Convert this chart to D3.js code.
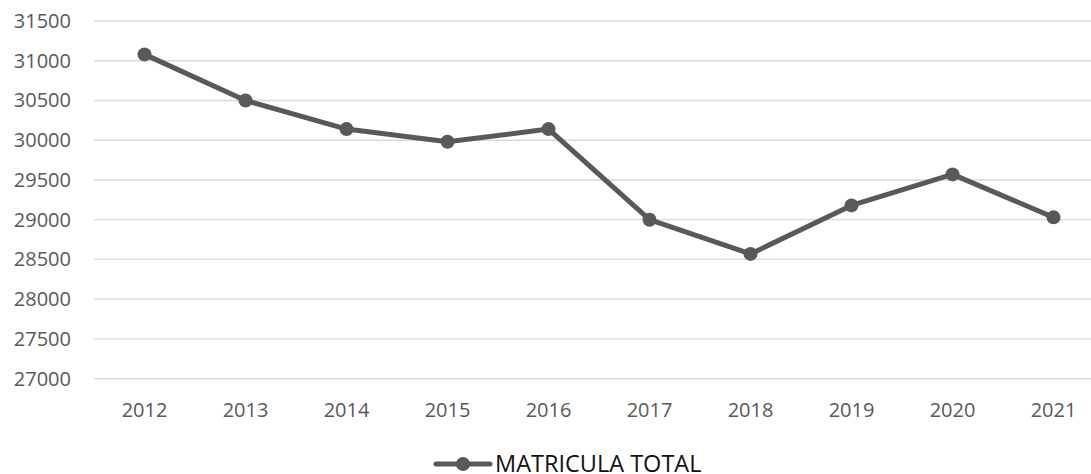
<!DOCTYPE html>
<html>
<head>
<meta charset="utf-8">
<script src="https://cdn.jsdelivr.net/npm/d3@7"></script>
<style>
  body { margin: 0; background: #fff; }
  svg { display: block; font-family: "Open Sans", sans-serif; }
</style>
</head>
<body>
<div id="art"></div>
<script>
const years = ["2012", "2013", "2014", "2015", "2016", "2017", "2018", "2019", "2020", "2021"];
const matricula = [31080, 30500, 30140, 29980, 30140, 29000, 28570, 29180, 29570, 29030];
const yTicks = [27000, 27500, 28000, 28500, 29000, 29500, 30000, 30500, 31000, 31500];
const seriesName = "MATRICULA TOTAL";

function art() {
  const width = 1091, height = 474;
  const left = 94, right = 1104, top = 21, bottom = 378.7;

  const svg = d3.select("#art").append("svg")
    .attr("width", width)
    .attr("height", height);

  const x = d3.scalePoint().domain(years).range([left, right]).padding(0.5);
  const y = d3.scaleLinear().domain([27000, 31500]).range([bottom, top]);

  // gridlines
  svg.append("g").selectAll("line")
    .data(yTicks)
    .enter().append("line")
    .attr("x1", left).attr("x2", right)
    .attr("y1", d => y(d)).attr("y2", d => y(d))
    .style("stroke", "#d9d9d9")
    .style("stroke-width", 1.3);

  // y labels
  svg.append("g").selectAll("text")
    .data(yTicks)
    .enter().append("text")
    .attr("x", 71)
    .attr("y", d => y(d))
    .attr("dy", "0.35em")
    .attr("text-anchor", "end")
    .style("font-size", "20px")
    .style("fill", "#595959")
    .text(d => d);

  // x labels
  svg.append("g").selectAll("text")
    .data(years)
    .enter().append("text")
    .attr("x", d => x(d))
    .attr("y", 417)
    .attr("text-anchor", "middle")
    .style("font-size", "20px")
    .style("fill", "#595959")
    .text(d => d);

  const pts = years.map((yr, i) => ({ yr, v: matricula[i] }));

  svg.append("path")
    .datum(pts)
    .attr("d", d3.line().x(d => x(d.yr)).y(d => y(d.v)))
    .style("fill", "none")
    .style("stroke", "#595959")
    .style("stroke-width", 5)
    .style("stroke-linejoin", "round");

  svg.append("g").selectAll("circle")
    .data(pts)
    .enter().append("circle")
    .attr("cx", d => x(d.yr))
    .attr("cy", d => y(d.v))
    .attr("r", 7)
    .style("fill", "#595959");

  // legend
  const lg = svg.append("g");
  lg.append("line")
    .attr("x1", 436).attr("x2", 490)
    .attr("y1", 464).attr("y2", 464)
    .style("stroke", "#595959")
    .style("stroke-width", 5)
    .style("stroke-linecap", "round");
  lg.append("circle")
    .attr("cx", 463).attr("cy", 464).attr("r", 7)
    .style("fill", "#595959");
  lg.append("text")
    .attr("x", 495).attr("y", 472)
    .style("font-size", "23.5px")
    .style("fill", "#111")
    .text(seriesName);
}

window.onload = function () {
  art();
};
</script>
</body>
</html>
